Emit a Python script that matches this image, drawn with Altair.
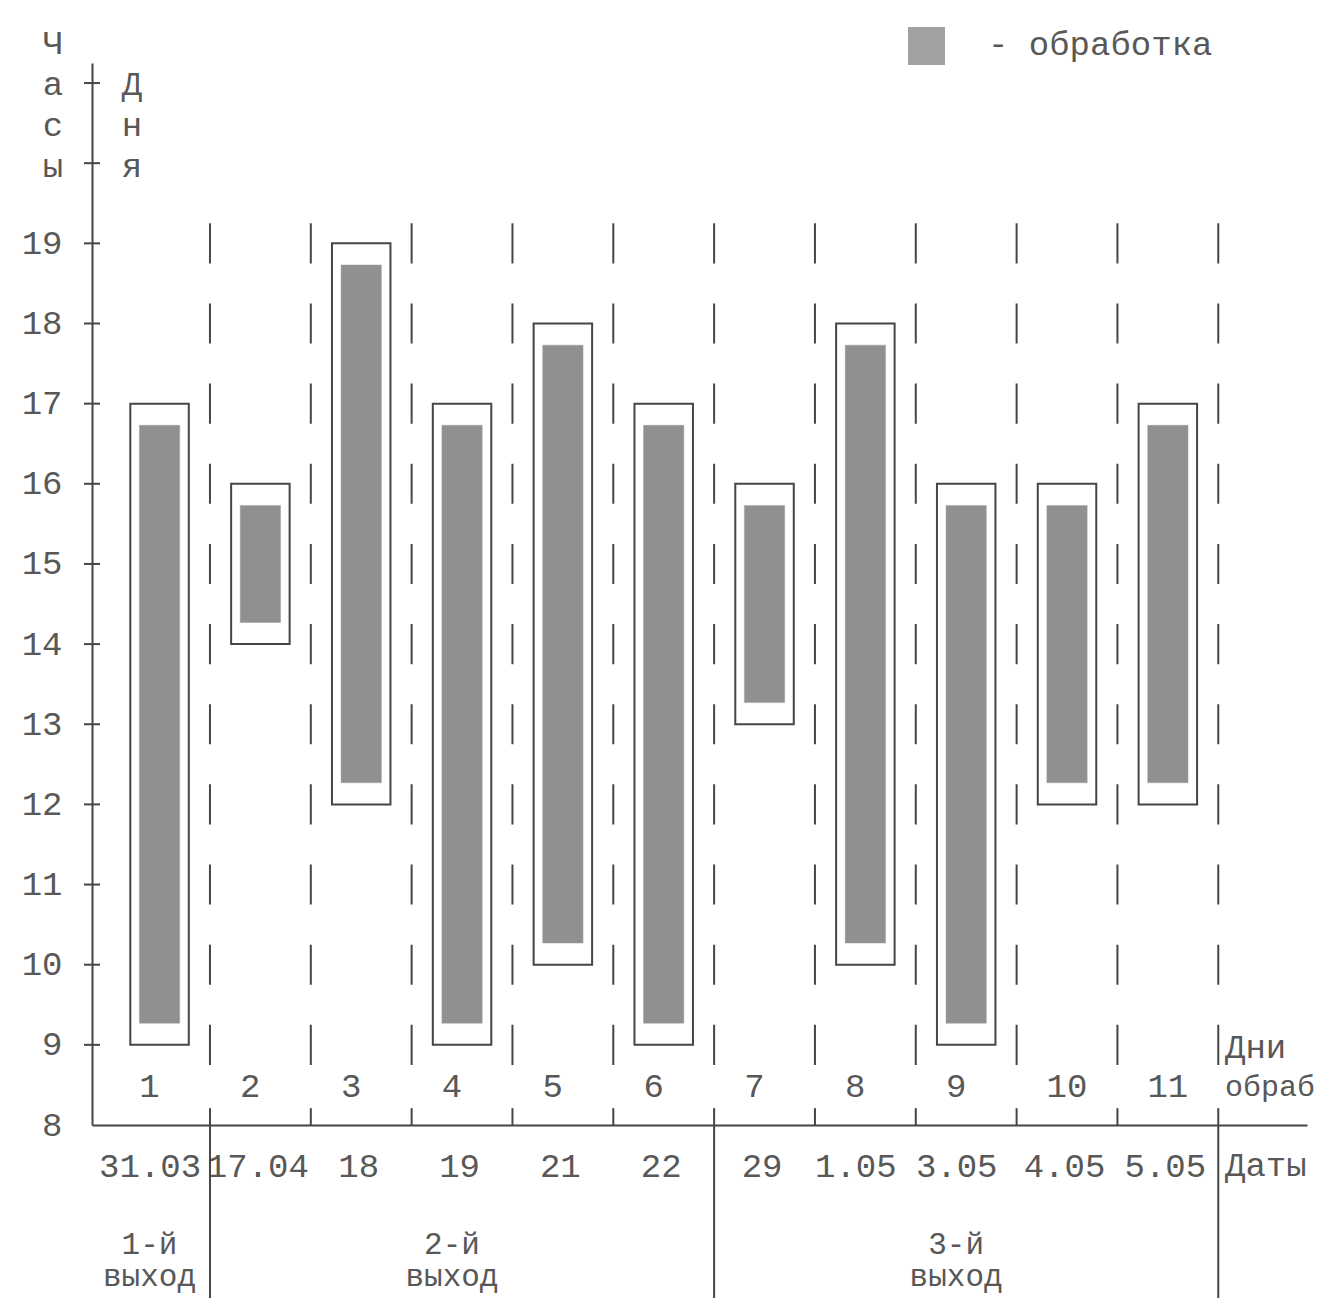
import json
import altair as alt
import pandas as pd

# ---- data ----
days = list(range(1, 12))
start_hours = [9, 14, 12, 9, 10, 9, 13, 10, 9, 12, 12]
end_hours = [17, 16, 19, 17, 18, 17, 16, 18, 16, 16, 17]
dates = ["31.03", "17.04", "18", "19", "21", "22", "29", "1.05", "3.05", "4.05", "5.05"]
hour_labels = list(range(8, 20))
tick_hours = list(range(9, 22))
day_boundaries = [d + 0.5 for d in days]
groups = ["1-й", "2-й", "3-й"]
group_first = [1, 2, 7]
group_last = [1, 6, 11]
group_word = "выход"
hours_title = ["Ч", "а", "с", "ы"]
days_title = ["Д", "н", "я"]
legend_label = "- обработка"
row_label_days = ["Дни", "обраб"]
row_label_dates = "Даты"

# ---- style / layout ----
FONT = "Liberation Mono"
FS = 34
TXT = "#585858"
LINE = "#454545"
W, H = 1215, 1062
PX_PER_HOUR = H / (21.25 - 8)

X = alt.Scale(domain=[0.33, 12.38], nice=False, zero=False)
Y = alt.Scale(domain=[8, 21.25], nice=False, zero=False)

x_axis = alt.Axis(
    values=days,
    labelExpr=json.dumps(dates, ensure_ascii=False) + "[datum.value - 1]",
    domain=True, domainColor=LINE, domainWidth=2,
    ticks=False, tickSize=0, grid=False, title=None,
    labelPadding=41, labelBaseline="middle", labelAlign="center",
    labelOffset={"condition": {"test": "datum.value == 1 || datum.value == 8 || datum.value == 9",
                               "value": -10},
                 "value": -3},
    labelFont=FONT, labelFontSize=FS, labelColor=TXT,
    labelOverlap=False, labelFlush=False,
)
y_axis = alt.Axis(
    values=hour_labels,
    domain=True, domainColor=LINE, domainWidth=2,
    ticks=False, tickSize=0, grid=False, title=None,
    labelPadding=30, labelBaseline="middle",
    labelFont=FONT, labelFontSize=FS, labelColor=TXT,
    labelOverlap=False, labelFlush=False,
)


def xq(field):
    return alt.X(field, scale=X, axis=x_axis)


def yq(field):
    return alt.Y(field, scale=Y, axis=y_axis)


box_df = pd.DataFrame({"day": days, "start": start_hours, "end": end_hours})

outer = alt.Chart(box_df).transform_calculate(
    xa="datum.day - 0.29", xb="datum.day + 0.29"
).mark_rect(fill="white", stroke=LINE, strokeWidth=2).encode(
    x=xq("xa:Q"), x2="xb:Q", y=yq("start:Q"), y2="end:Q",
)

inner = alt.Chart(box_df).transform_calculate(
    xa="datum.day - 0.2", xb="datum.day + 0.2",
    ya="datum.start + 0.27", yb="datum.end - 0.27",
).mark_rect(fill="#909090", stroke="#a0a0a0", strokeWidth=0.5).encode(
    x=xq("xa:Q"), x2="xb:Q", y=yq("ya:Q"), y2="yb:Q",
)

bound_df = pd.DataFrame({"b": day_boundaries})
dashed = alt.Chart(bound_df).transform_calculate(
    top="19.25", bot="8.75"
).mark_rule(color=LINE, strokeWidth=2,
            strokeDash=[0.5 * PX_PER_HOUR, 0.5 * PX_PER_HOUR]).encode(
    x=xq("b:Q"), y=yq("top:Q"), y2="bot:Q",
)

xticks = alt.Chart(bound_df).transform_calculate(
    base="8", tip="8.21"
).mark_rule(color=LINE, strokeWidth=2).encode(
    x=xq("b:Q"), y=yq("base:Q"), y2="tip:Q",
)

yticks = alt.Chart(pd.DataFrame({"h": tick_hours})).mark_rule(
    color=LINE, strokeWidth=2
).encode(
    y=yq("h:Q"), x=alt.value(-8), x2=alt.value(8),
)

sep_positions = [g - 0.5 for g in group_first[1:]] + [group_last[-1] + 0.5]
seps = alt.Chart(pd.DataFrame({"b": sep_positions})).mark_rule(
    color=LINE, strokeWidth=2
).encode(
    x=xq("b:Q"), y=alt.value(H), y2=alt.value(H + 173),
)

text_kw = dict(font=FONT, fontSize=FS, color=TXT, baseline="middle")

day_nums = alt.Chart(pd.DataFrame({"day": days})).transform_calculate(
    lab="'' + datum.day",
    xp="datum.day < 10 ? datum.day - 0.1 : datum.day",
).mark_text(align="center", **text_kw).encode(
    x=xq("xp:Q"), y=alt.value(1024), text="lab:N",
)

row_days = alt.Chart(pd.DataFrame({"t": row_label_days, "i": [0, 1],
                                   "fs": [FS, 30]})).transform_calculate(
    yy="985 + 39 * datum.i"
).mark_text(align="left", font=FONT, color=TXT, baseline="middle").encode(
    x=alt.value(1133), y=alt.Y("yy:Q", scale=None), text="t:N",
    size=alt.Size("fs:Q", scale=None, legend=None),
)

row_dates = alt.Chart(pd.DataFrame({"t": [row_label_dates]})).mark_text(
    align="left", **text_kw
).encode(x=alt.value(1133), y=alt.value(1103), text="t:N")

grp_df = pd.DataFrame({"g": groups, "first": group_first, "last": group_last})
grp_num = alt.Chart(grp_df).transform_calculate(
    c="(datum.first + datum.last) / 2 - 0.1"
).mark_text(align="center", font=FONT, fontSize=31, color=TXT, baseline="middle").encode(
    x=xq("c:Q"), y=alt.value(1182), text="g:N",
)
grp_word = alt.Chart(grp_df).transform_calculate(
    c="(datum.first + datum.last) / 2 - 0.1", w="'" + group_word + "'"
).mark_text(align="center", font=FONT, fontSize=31, color=TXT, baseline="middle").encode(
    x=xq("c:Q"), y=alt.value(1214), text="w:N",
)

hrs_df = pd.DataFrame({"t": hours_title, "i": list(range(len(hours_title)))})
hrs = alt.Chart(hrs_df).transform_calculate(
    yy="-19 + 41 * datum.i"
).mark_text(align="center", **text_kw).encode(
    x=alt.value(-39), y=alt.Y("yy:Q", scale=None), text="t:N",
)
dys_df = pd.DataFrame({"t": days_title, "i": list(range(1, len(days_title) + 1))})
dys = alt.Chart(dys_df).transform_calculate(
    yy="-19 + 41 * datum.i"
).mark_text(align="center", **text_kw).encode(
    x=alt.value(40), y=alt.Y("yy:Q", scale=None), text="t:N",
)

leg_df = pd.DataFrame({"t": [legend_label]})
leg_box = alt.Chart(leg_df).mark_rect(fill="#a2a2a2").encode(
    x=alt.value(816), x2=alt.value(853), y=alt.value(-36), y2=alt.value(2),
)
leg_txt = alt.Chart(leg_df).mark_text(align="left", **text_kw).encode(
    x=alt.value(896), y=alt.value(-18), text="t:N",
)

chart = alt.layer(
    outer, inner, dashed, xticks, yticks, seps, day_nums, row_days, row_dates,
    grp_num, grp_word, hrs, dys, leg_box, leg_txt,
).properties(
    width=W, height=H,
    autosize=alt.AutoSizeParams(type="none"),
    padding={"left": 84, "top": 55, "right": 8, "bottom": 173},
    background="white",
).configure_view(stroke=None)

chart.save("out.html", embed_options={"renderer": "svg", "actions": False})
